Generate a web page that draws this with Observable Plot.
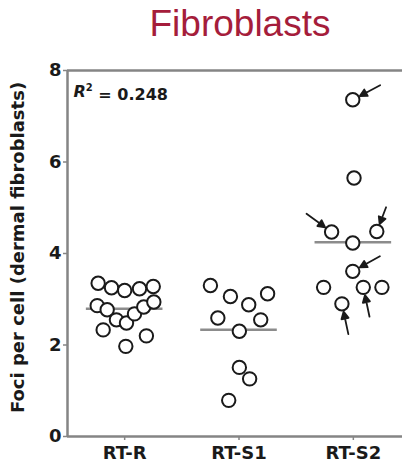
<!DOCTYPE html>
<html>
<head>
<meta charset="utf-8">
<script src="https://cdn.jsdelivr.net/npm/d3@7"></script>
<script src="https://cdn.jsdelivr.net/npm/@observablehq/plot@0.6"></script>
<style>
  html, body { margin: 0; padding: 0; background: #fff; }
  #wrap { width: 402px; height: 465px; position: relative; overflow: hidden; }
  #title { height: 50px; box-sizing: border-box; padding-top: 5px; padding-left: 78px; text-align: center;
           font-family: "Liberation Sans", Arial, sans-serif; font-size: 37px; line-height: 37px; color: #a51d3b; }
  #chart svg { display: block; }
</style>
</head>
<body>
<div id="wrap">
  <div id="title">Fibroblasts</div>
  <div id="chart"></div>
</div>
<script>
// ---- data ----
const groups = ["RT-R", "RT-S1", "RT-S2"];
const valuesRTR  = [3.35, 3.25, 3.19, 3.23, 3.28, 2.86, 2.77, 2.55, 2.48, 2.68, 2.83, 2.94, 2.33, 1.97, 2.20];
const jitterRTR  = [-0.232, -0.115, 0.0, 0.13, 0.25, -0.24, -0.153, -0.072, 0.016, 0.086, 0.167, 0.255, -0.188, 0.01, 0.19];
const valuesRTS1 = [3.30, 3.06, 2.88, 3.12, 2.59, 2.55, 2.30, 1.51, 1.26, 0.79];
const jitterRTS1 = [-0.25, -0.075, 0.085, 0.25, -0.185, 0.19, 0.003, 0.003, 0.093, -0.09];
const valuesRTS2 = [7.36, 5.65, 4.47, 4.23, 4.48, 3.61, 3.26, 3.26, 3.26, 2.90];
const jitterRTS2 = [-0.005, 0.006, -0.19, -0.005, 0.205, -0.005, -0.26, 0.087, 0.25, -0.10];
const yTicks = [0, 2, 4, 6, 8];
const yTitle = "Foci per cell (dermal fibroblasts)";
const r2Value = "0.248";
// arrows in the RT-S2 group: which point, direction (deg, clockwise from up), length (px)
const arrowPoint  = [0, 2, 4, 5, 7, 9];
const arrowAngle  = [242, 126, 201, 241, 348, 348];
const arrowLength = [31, 31, 26, 31, 30, 31];

// ---- build tables ----
const series = [valuesRTR, valuesRTS1, valuesRTS2];
const jitters = [jitterRTR, jitterRTS1, jitterRTS2];
const points = series.flatMap((vals, g) => vals.map((v, i) => ({gi: g, group: groups[g], value: v, x: g + jitters[g][i]})));
const means = series.map((vals, g) => ({gi: g, mean: d3.mean(vals)}));
const s2 = points.filter(d => d.gi === 2);
const arrows = arrowPoint.map((p, i) => ({x: s2[p].x, value: s2[p].value, angle: arrowAngle[i], length: arrowLength[i]}));

const axisGray = "#858585";
const font = "'DejaVu Sans', sans-serif";
const halfW = 0.335;
const gap = 8;
const arrowShape = {
  draw(ctx, l) {
    const tip = l - gap, h = 7, w = 3.6;
    ctx.moveTo(0, 0);
    ctx.lineTo(0, -(tip - h + 1));
    ctx.moveTo(0, -tip);
    ctx.lineTo(-w, -(tip - h));
    ctx.lineTo(w, -(tip - h));
    ctx.closePath();
  }
};

const chart = Plot.plot({
  width: 402,
  height: 415,
  marginTop: 20,
  marginBottom: 29,
  marginLeft: 67,
  marginRight: 0,
  style: {fontFamily: font, fontWeight: "bold", color: "#1a1a1a", background: "#fff"},
  x: {domain: [-0.5, 2.43], axis: null},
  y: {domain: [0, 8], axis: null},
  length: {type: "identity"},
  marks: [
    Plot.ruleX([-0.5], {y1: 0, y2: 8, stroke: axisGray, strokeWidth: 2.5}),
    Plot.ruleY([0, 8], {x1: -0.5, x2: 2.43, stroke: axisGray, strokeWidth: 2.5}),
    Plot.axisY(yTicks, {anchor: "left", tickSize: 4, tickPadding: 2, stroke: axisGray, strokeWidth: 1.5,
      fontSize: 18, fontWeight: "bold", fill: "#1a1a1a", label: null}),
    Plot.axisX([0, 1, 2], {anchor: "bottom", tickSize: 4, tickPadding: 6, stroke: axisGray, strokeWidth: 1.5,
      fontSize: 18, fontWeight: "bold", fill: "#1a1a1a", label: null, tickFormat: i => groups[i]}),
    Plot.text([yTitle], {frameAnchor: "left", rotate: -90, dx: -49, dy: -6, textAnchor: "middle",
      fontSize: 18, fontWeight: "bold", fill: "#1a1a1a"}),
    Plot.ruleY(means, {y: "mean", x1: d => d.gi - halfW, x2: d => d.gi + halfW, stroke: "#8c8c8c", strokeWidth: 2.5}),
    Plot.dot(points, {x: "x", y: "value", r: 6.7, stroke: "#1a1a1a", strokeWidth: 2, fill: "white"}),
    Plot.vector(arrows, {x: "x", y: "value", rotate: "angle", length: "length", anchor: "end", shape: arrowShape,
      stroke: "#1a1a1a", fill: "#1a1a1a", strokeWidth: 1.8}),
    Plot.text([r2Value], {frameAnchor: "top-left", dx: 6, dy: 21, lineAnchor: "middle", textAnchor: "start",
      fontSize: 16, fontWeight: "bold", fill: "#1a1a1a", className: "r2label"})
  ]
});
document.getElementById("chart").appendChild(chart);

// rich text for the R² label
const t = d3.select(chart).select(".r2label text");
const v = t.text();
t.text(null);
t.append("tspan").attr("font-style", "italic").text("R");
t.append("tspan").attr("font-size", 10).attr("dy", "-0.6em").text("2");
t.append("tspan").attr("dy", "0.6em").text(" = " + v);
</script>
</body>
</html>
